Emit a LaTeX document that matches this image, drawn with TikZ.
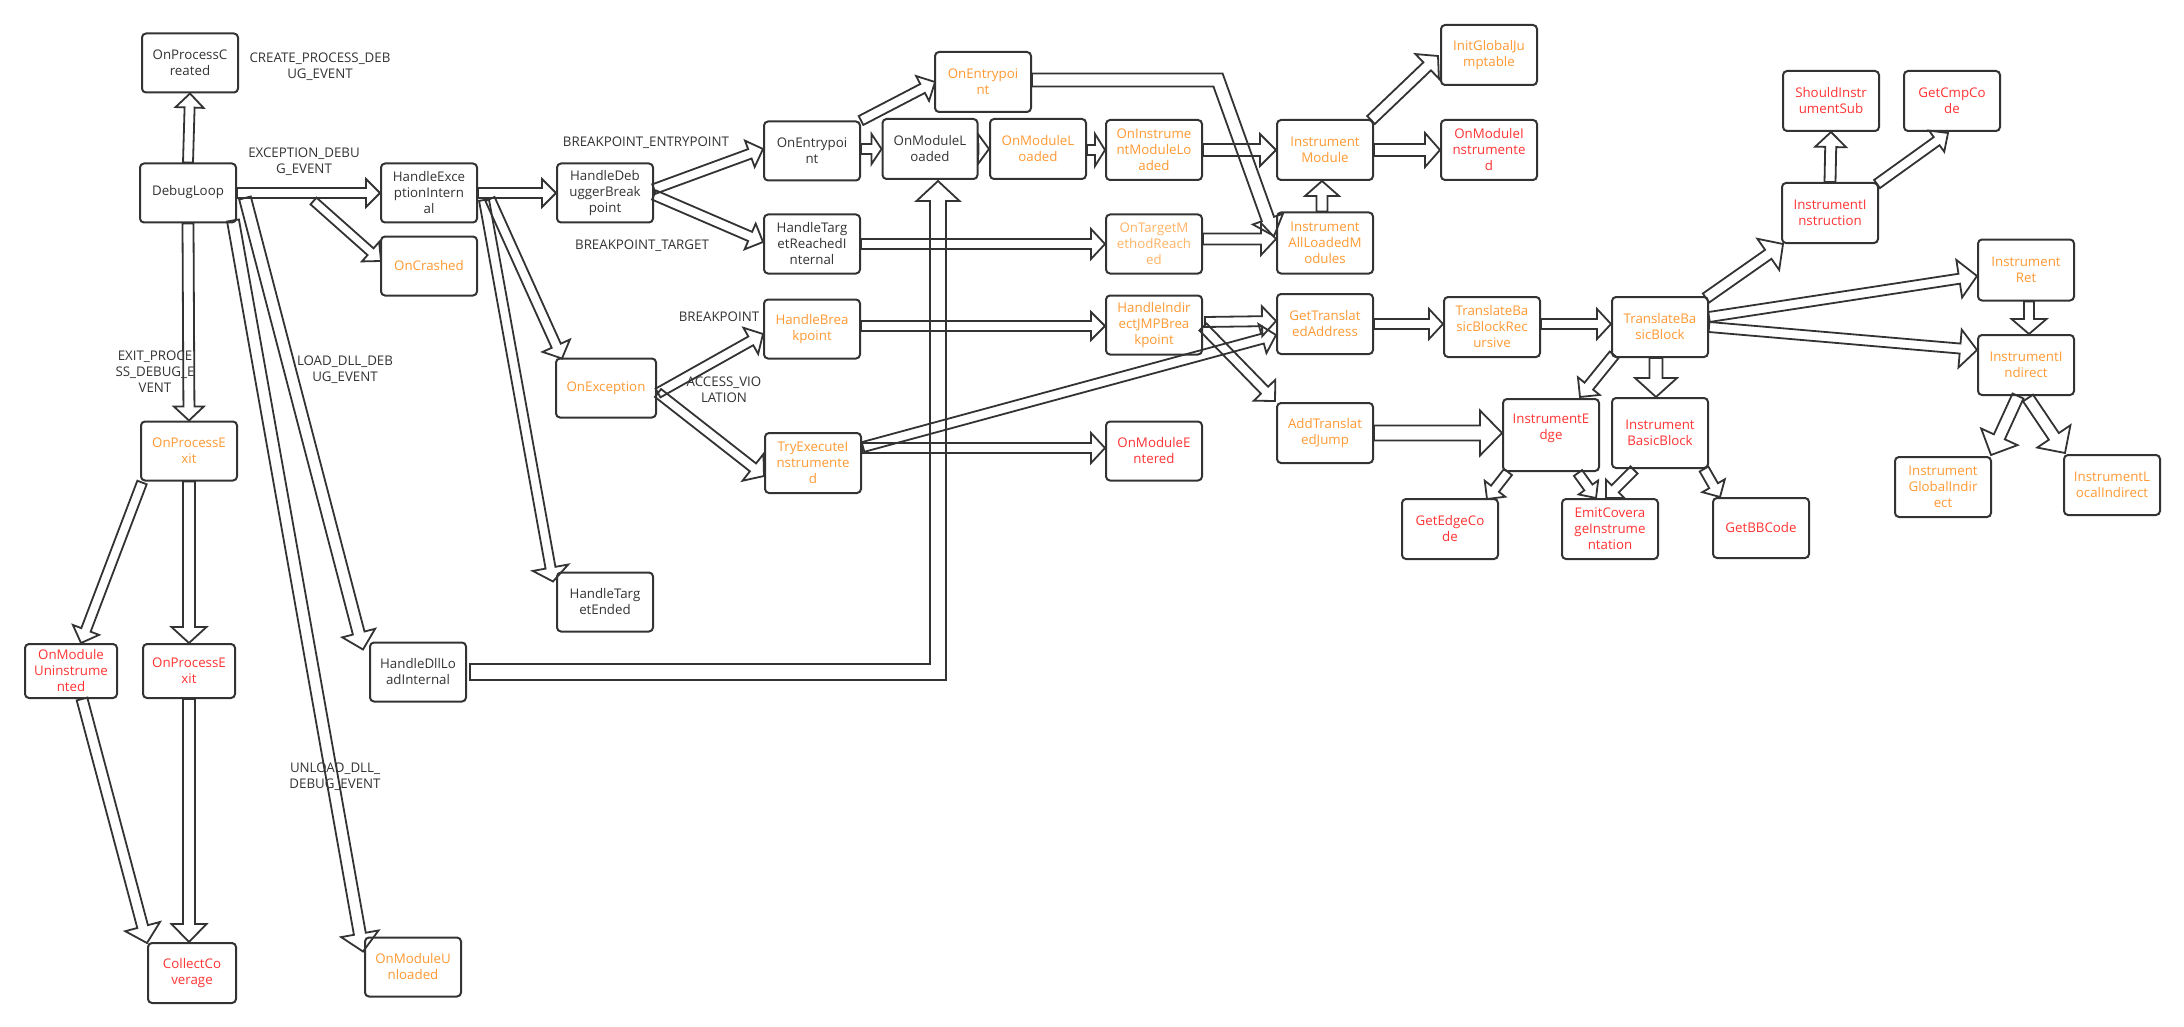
\documentclass[tikz,border=0pt]{standalone}
\usepackage{fontspec}
\setmainfont{Open Sans}
\usetikzlibrary{calc}
\definecolor{dk}{HTML}{333333}
\definecolor{org}{HTML}{FF9933}
\definecolor{lorg}{HTML}{FFB366}
\definecolor{rd}{HTML}{FF3333}
\tikzset{
  box/.style={draw=dk, line width=2pt, rounded corners=4pt, fill=white,
    minimum width=96pt, minimum height=59pt, inner sep=0pt, align=center,
    font=\fontsize{13.3}{16}\selectfont, text=dk},
  ob/.style={box, text=org},
  rb/.style={box, text=rd},
  farrow/.style={draw=dk, line width=1.8pt, line join=miter},
  lbl/.style={align=center, inner sep=0pt, text=dk, font=\fontsize{13.3}{16}\selectfont},
}
% straight flex arrow: start, end, half shaft, half head, head length
\newcommand\flexarr[5]{%
  \path (#1) coordinate (faA) (#2) coordinate (faB);
  \path ($(faB)!#5pt!(faA)$) coordinate (faH);
  \draw[farrow] ($(faA)!#3pt!90:(faB)$) -- ($(faH)!#3pt!90:(faB)$) -- ($(faH)!#4pt!90:(faB)$) -- (faB)
    -- ($(faH)!#4pt!-90:(faB)$) -- ($(faH)!#3pt!-90:(faB)$) -- ($(faA)!#3pt!-90:(faB)$) -- cycle;
}
% bent flex arrow: start, bend, end, half shaft, half head, head length
\newcommand\flexbend[6]{%
  \path (#1) coordinate (fbA) (#2) coordinate (fbB) (#3) coordinate (fbT);
  \path ($(fbT)!#6pt!(fbB)$) coordinate (fbH);
  \path ($(fbA)!#4pt!90:(fbB)$) coordinate (fbAa) ($(fbB)!#4pt!-90:(fbA)$) coordinate (fbPa)
        ($(fbB)!#4pt!90:(fbT)$) coordinate (fbQa) ($(fbH)!#4pt!90:(fbT)$) coordinate (fbHa);
  \path ($(fbA)!#4pt!-90:(fbB)$) coordinate (fbAb) ($(fbB)!#4pt!90:(fbA)$) coordinate (fbPb)
        ($(fbB)!#4pt!-90:(fbT)$) coordinate (fbQb) ($(fbH)!#4pt!-90:(fbT)$) coordinate (fbHb);
  \path (intersection cs: first line={(fbAa)--(fbPa)}, second line={(fbQa)--(fbHa)}) coordinate (fbCa);
  \path (intersection cs: first line={(fbAb)--(fbPb)}, second line={(fbQb)--(fbHb)}) coordinate (fbCb);
  \draw[farrow] (fbAa) -- (fbCa) -- (fbHa) -- ($(fbH)!#5pt!90:(fbT)$) -- (fbT) -- ($(fbH)!#5pt!-90:(fbT)$)
    -- (fbHb) -- (fbCb) -- (fbAb) -- cycle;
}
\begin{document}
\begin{tikzpicture}[x=1pt, y=-1pt]
\fill[white] (0,0) rectangle (2184,1027);
\useasboundingbox (0,0) rectangle (2184,1027);

% ---------- nodes ----------
\node[box] (opc) at (190,63) {OnProcessC\\reated};
\node[box] (dl) at (188,193) {\raisebox{6pt}{DebugLoop}};
\node[box] (hei) at (429,193) {HandleExce\\ptionIntern\\al};
\node[ob] (oncr) at (429,266) {OnCrashed};
\node[box] (hdb) at (605,193) {HandleDeb\\uggerBreak\\point};
\node[box] (oepb) at (812,151) {OnEntrypoi\\nt};
\node[ob, minimum height=60pt] (oepo) at (983,82) {OnEntrypoi\\nt};
\node[box, minimum width=95pt, minimum height=60pt] (omlb) at (930,149) {OnModuleL\\oaded};
\node[ob, minimum height=60pt] (omlo) at (1038,149) {OnModuleL\\oaded};
\node[box] (htri) at (812,244) {HandleTarg\\etReachedI\\nternal};
\node[ob] (hbp) at (812,329) {HandleBrea\\kpoint};
\node[ob, minimum width=100pt] (onex) at (606,388) {OnException};
\node[ob, minimum height=60pt] (tei) at (813,463) {TryExecuteI\\nstrumente\\d};
\node[box] (hte) at (605,602) {HandleTarg\\etEnded};
\node[box] (hdli) at (418,672) {HandleDllLo\\adInternal};
\node[ob] (omu) at (413,967) {OnModuleU\\nloaded};
\node[ob] (opeo) at (189,451) {OnProcessE\\xit};
\node[rb, minimum width=92pt, minimum height=54pt] (omun) at (71,671) {OnModule\\Uninstrume\\nted};
\node[rb, minimum width=92pt, minimum height=54pt] (oper) at (189,671) {OnProcessE\\xit};
\node[rb, minimum width=88pt, minimum height=60pt] (cc) at (192,973) {CollectCo\\verage};
\node[ob, minimum height=60pt] (oiml) at (1154,150) {OnInstrume\\ntModuleLo\\aded};
\node[ob, minimum height=60pt] (im) at (1325,150) {Instrument\\Module};
\node[ob, minimum height=60pt] (igj) at (1489,55) {InitGlobalJu\\mptable};
\node[rb, minimum height=60pt] (omi) at (1489,150) {OnModuleI\\nstrumente\\d};
\node[box, text=lorg] (otmr) at (1154,244) {OnTargetM\\ethodReach\\ed};
\node[ob, minimum height=61pt] (ialm) at (1325,243) {Instrument\\AllLoadedM\\odules};
\node[ob] (hijb) at (1154,325) {HandleIndir\\ectJMPBrea\\kpoint};
\node[ob, minimum height=60pt] (gta) at (1325,324) {GetTranslat\\edAddress};
\node[ob, minimum height=60pt] (tbbr) at (1492,327) {TranslateBa\\sicBlockRec\\ursive};
\node[ob, minimum height=60pt] (tbb) at (1660,327) {TranslateBa\\sicBlock};
\node[rb] (ome) at (1154,451) {OnModuleE\\ntered};
\node[ob, minimum height=60pt] (atj) at (1325,433) {AddTranslat\\edJump};
\node[rb, minimum height=72pt] (ie) at (1551,435) {InstrumentE\\dge\\\mbox{}};
\node[rb, minimum height=70pt] (ibb) at (1660,433) {Instrument\\BasicBlock};
\node[rb, minimum height=60pt] (gec) at (1450,529) {GetEdgeCo\\de};
\node[rb, minimum height=60pt] (eci) at (1610,529) {EmitCovera\\geInstrume\\ntation};
\node[rb, minimum height=60pt] (gbb) at (1761,528) {GetBBCode};
\node[rb, minimum height=60pt] (ii) at (1830,213) {InstrumentI\\nstruction};
\node[rb, minimum height=60pt] (sis) at (1831,101) {ShouldInstr\\umentSub};
\node[rb, minimum height=60pt] (gcc) at (1952,101) {GetCmpCo\\de};
\node[ob, minimum height=61pt] (ir) at (2026,270) {Instrument\\Ret};
\node[ob, minimum height=60pt] (ind) at (2026,365) {InstrumentI\\ndirect};
\node[ob, minimum height=60pt] (igi) at (1943,487) {Instrument\\GlobalIndir\\ect};
\node[ob, minimum height=60pt] (ili) at (2112,485) {InstrumentL\\ocalIndirect};

% ---------- arrows ----------
\flexarr{dl.north}{opc.south}{5}{14}{14}
\flexarr{dl.east}{hei.west}{5}{14}{14}
\coordinate (crs) at (313.5,201);
\flexarr{crs}{$(oncr.west)+(1,-5)$}{4.5}{13}{14}
\flexarr{dl.south}{opeo.north}{5.5}{15}{14}
\flexarr{$(opeo.south west)+(2,1)$}{$(omun.north)+(10,0)$}{5}{14}{14}
\flexarr{opeo.south}{oper.north}{6}{17.5}{16}
\flexarr{$(omun.south)+(11,0)$}{$(cc.north west)+(0,1)$}{5.5}{18}{17}
\flexarr{oper.south}{cc.north -| oper.south}{6}{17.5}{18}
\flexarr{$(dl.east)+(8,5)$}{$(hdli.north west)+(-6,8)$}{6}{17}{17}
\flexarr{$(dl.south east)+(-4,-3)$}{$(omu.north west)+(-1,15)$}{6}{19}{18}

\flexarr{hei.east}{hdb.west}{5}{14}{14}
\flexarr{$(hei.east)+(12,6)$}{$(onex.north west)+(7,1)$}{5}{15}{14}
\flexarr{$(hei.east)+(6,7)$}{$(hte.north west)+(-3,10)$}{5}{18}{14}

\flexarr{$(hdb.east)+(0,-4)$}{$(oepb.west)+(0,-2)$}{5}{14}{14}
\flexarr{$(hdb.east)+(0,2)$}{$(htri.west)+(0,-2)$}{5}{14}{14}
\flexarr{oepb.north east}{$(oepo.west)+(1,0)$}{5}{14}{14}
\flexarr{oepb.east |- omlb.west}{omlb.west}{5}{15}{10}
\flexarr{omlb.east}{omlo.west}{5}{15}{11}
\flexarr{omlo.east |- oiml.west}{oiml.west}{5}{16}{10}
\flexarr{oiml.east}{im.west}{6}{16}{16}
\flexarr{im.east}{omi.west}{6}{17}{15}
\flexarr{$(im.north east)+(-3,1)$}{$(igj.west)+(-2,1)$}{5.5}{17}{15}
\flexbend{$(oepo.east)+(0,-2)$}{$(oepo.east)+(186,-2)$}{$(ialm.west)+(-2,-7)$}{6.5}{16}{18}

\flexarr{htri.east}{otmr.west}{5}{15}{14}
\flexarr{$(otmr.east)+(0,-5)$}{$(ialm.west)+(0,-4)$}{5.5}{16}{15}
\flexarr{$(ialm.north)+(-3,0)$}{$(im.south)+(-3,0)$}{5.5}{17}{15}

\flexarr{$(onex.east)+(1,5)$}{$(hbp.west)+(0,5)$}{5}{15}{14}
\flexarr{$(onex.east)+(1,5)$}{$(tei.west)+(0,13)$}{5}{17}{14}
\flexarr{$(hbp.east)+(0,-3)$}{$(hijb.west)+(0,1)$}{5}{14}{14}
\flexarr{$(hijb.east)+(2,-3)$}{$(gta.west)+(0,-3)$}{5}{15}{14}
\flexarr{$(tei.east)+(1,-16)$}{$(gta.west)+(0,11)$}{5}{15}{14}
\flexarr{$(tei.east)+(0,-15)$}{$(ome.west)+(0,-3)$}{5}{15}{14}
\flexarr{$(hijb.east)+(0,2)$}{$(atj.north west)+(-1,-1)$}{5}{15}{15}

\coordinate (dA) at ($(hdli.east)+(3,0)$);
\coordinate (dT) at ($(omlb.south)+(8,1)$);
\flexbend{dA}{dT |- dA}{dT}{8}{21.5}{20}

\flexarr{gta.east}{tbbr.west |- gta.east}{5}{15}{14}
\flexarr{$(tbbr.east)+(0,-3)$}{$(tbb.west)+(0,-3)$}{5}{15}{14}
\flexarr{atj.east}{ie.west |- atj.east}{7.5}{22.5}{22}
\flexarr{$(tbb.south west)+(3,-3)$}{$(ie.north)+(29,-1)$}{5.5}{14}{14}
\flexarr{$(tbb.south)+(-4,0)$}{$(ibb.north)+(-4,0)$}{6.5}{21}{19}
\flexarr{$(ie.south west)+(6,0)$}{$(gec.north east)+(-12,1)$}{5}{13}{13}
\flexarr{$(ie.south)+(27,1)$}{$(eci.north)+(-14,0)$}{5}{12}{13}
\flexarr{$(ibb.south)+(-26,1)$}{$(eci.north)+(-4,0)$}{5}{13}{13}
\flexarr{$(ibb.south east)+(-5,0)$}{$(gbb.north west)+(8,0)$}{5}{13}{13}
\flexarr{$(tbb.north east)+(-3,2)$}{$(ii.south west)+(2,0)$}{5.5}{19}{18}
\flexarr{ii.north}{sis.south}{5.5}{15.5}{15}
\flexarr{$(ii.north east)+(-2,2)$}{$(gcc.south)+(-4,1)$}{5}{13}{14}
\flexarr{$(tbb.east)+(0,-10)$}{$(ir.west)+(0,6)$}{5}{19}{18}
\flexarr{tbb.east}{$(ind.west)+(0,-15)$}{5}{19}{17}
\flexarr{$(ir.south)+(3,0)$}{$(ind.north)+(3,0)$}{5}{17.5}{15}
\flexarr{$(ind.south)+(-8,0)$}{$(igi.north east)+(-1,-1)$}{6}{20}{20}
\flexarr{$(ind.south)+(2,2)$}{$(ili.north west)+(2,-1)$}{6}{20}{20}

% ---------- labels ----------
\node[lbl] (l1) at (320,67) {CREATE\_PROCESS\_DEB\\UG\_EVENT};
\node[lbl] (l2) at (304,162) {EXCEPTION\_DEBU\\G\_EVENT};
\node[lbl] (l3) at (155,372) {EXIT\_PROCE\\SS\_DEBUG\_E\\VENT};
\node[lbl] (l4) at (345,370) {LOAD\_DLL\_DEB\\UG\_EVENT};
\node[lbl] (l5) at (335,777) {UNLOAD\_DLL\_\\DEBUG\_EVENT};
\node[lbl] (l6) at (646,143) {BREAKPOINT\_ENTRYPOINT};
\node[lbl] (l7) at (642,246) {BREAKPOINT\_TARGET};
\node[lbl] (l8) at (719,317) {BREAKPOINT};
\node[lbl] (l9) at (724,390) {ACCESS\_VIO\\LATION};
\end{tikzpicture}
\end{document}
